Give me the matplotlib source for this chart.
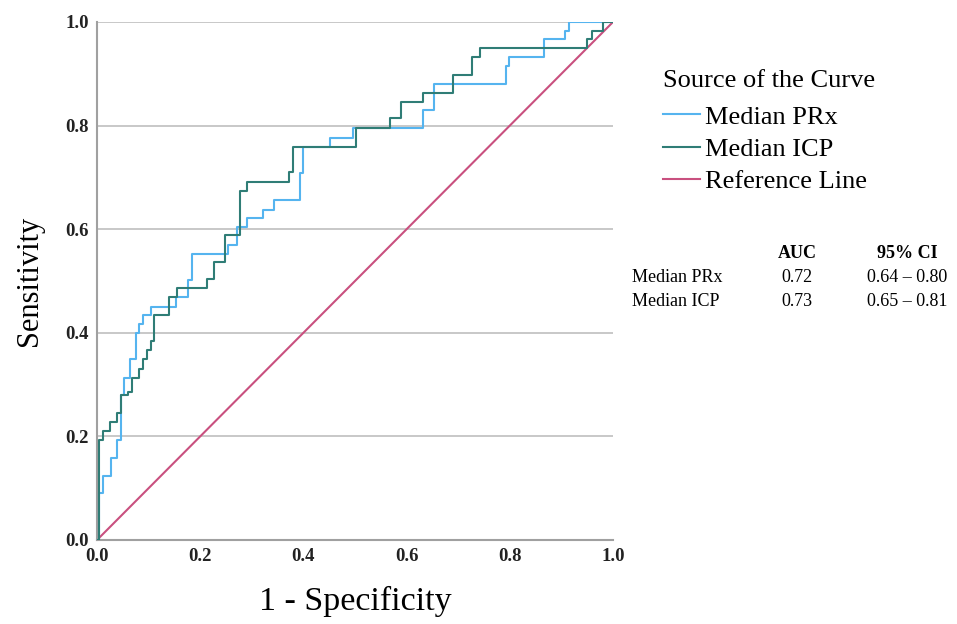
import matplotlib
matplotlib.use("Agg")
import matplotlib.pyplot as plt

# ROC step vertices: (1 - specificity, sensitivity)
prx_fpr = [0.0, 0.003, 0.003, 0.011, 0.011, 0.027, 0.027, 0.038, 0.038, 0.046, 0.046, 0.053, 0.053,
           0.063, 0.063, 0.075, 0.075, 0.082, 0.082, 0.090, 0.090, 0.105, 0.105, 0.154, 0.154,
           0.177, 0.177, 0.184, 0.184, 0.254, 0.254, 0.271, 0.271, 0.291, 0.291, 0.321, 0.321,
           0.343, 0.343, 0.393, 0.393, 0.400, 0.400, 0.452, 0.452, 0.497, 0.497, 0.632, 0.632,
           0.654, 0.654, 0.793, 0.793, 0.799, 0.799, 0.866, 0.866, 0.907, 0.907, 0.915, 0.915, 1.0]
prx_tpr = [0.0, 0.0, 0.090, 0.090, 0.124, 0.124, 0.158, 0.158, 0.193, 0.193, 0.279, 0.279, 0.313,
           0.313, 0.349, 0.349, 0.400, 0.400, 0.417, 0.417, 0.434, 0.434, 0.450, 0.450, 0.470,
           0.470, 0.502, 0.502, 0.553, 0.553, 0.569, 0.569, 0.605, 0.605, 0.621, 0.621, 0.638,
           0.638, 0.656, 0.656, 0.708, 0.708, 0.759, 0.759, 0.777, 0.777, 0.795, 0.795, 0.830,
           0.830, 0.880, 0.880, 0.915, 0.915, 0.932, 0.932, 0.967, 0.967, 0.983, 0.983, 1.0, 1.0]

icp_fpr = [0.0, 0.003, 0.003, 0.011, 0.011, 0.025, 0.025, 0.038, 0.038, 0.046, 0.046, 0.061, 0.061,
           0.067, 0.067, 0.082, 0.082, 0.090, 0.090, 0.097, 0.097, 0.105, 0.105, 0.111, 0.111,
           0.140, 0.140, 0.156, 0.156, 0.213, 0.213, 0.227, 0.227, 0.249, 0.249, 0.277, 0.277,
           0.290, 0.290, 0.372, 0.372, 0.379, 0.379, 0.502, 0.502, 0.568, 0.568, 0.590, 0.590,
           0.632, 0.632, 0.690, 0.690, 0.727, 0.727, 0.742, 0.742, 0.949, 0.949, 0.959, 0.959,
           0.981, 0.981, 1.0]
icp_tpr = [0.0, 0.0, 0.193, 0.193, 0.210, 0.210, 0.227, 0.227, 0.245, 0.245, 0.279, 0.279, 0.285,
           0.285, 0.313, 0.313, 0.331, 0.331, 0.349, 0.349, 0.367, 0.367, 0.385, 0.385, 0.434,
           0.434, 0.470, 0.470, 0.486, 0.486, 0.503, 0.503, 0.537, 0.537, 0.589, 0.589, 0.674,
           0.674, 0.692, 0.692, 0.711, 0.711, 0.759, 0.759, 0.795, 0.795, 0.814, 0.814, 0.846,
           0.846, 0.863, 0.863, 0.898, 0.898, 0.933, 0.933, 0.950, 0.950, 0.967, 0.967, 0.983,
           0.983, 1.0, 1.0]

ref_x = [0.0, 1.0]
ref_y = [0.0, 1.0]

series_names = ["Median PRx", "Median ICP", "Reference Line"]
auc_values = ["0.72", "0.73"]
ci_values = ["0.64 \u2013 0.80", "0.65 \u2013 0.81"]
ticks = [0.0, 0.2, 0.4, 0.6, 0.8, 1.0]
tick_labels = ["0.0", "0.2", "0.4", "0.6", "0.8", "1.0"]

plt.rcParams['font.family'] = ['Liberation Serif', 'DejaVu Serif']

W, H = 957, 624
fig = plt.figure(figsize=(W / 100, H / 100), dpi=100)
ax = fig.add_axes([97 / W, 1 - 540 / H, (613 - 97) / W, (540 - 22) / H])

c_prx = "#55b4ef"
c_icp = "#2f7d76"
c_ref = "#c9507f"

ax.plot(ref_x, ref_y, color=c_ref, lw=1.5, label=series_names[2], zorder=2)
ax.plot(prx_fpr, prx_tpr, color=c_prx, lw=1.5, label=series_names[0], zorder=3)
ax.plot(icp_fpr, icp_tpr, color=c_icp, lw=1.5, label=series_names[1], zorder=4)

ax.set_xlim(0, 1)
ax.set_ylim(0, 1)
ax.set_xticks(ticks)
ax.set_xticklabels(tick_labels)
ax.set_yticks(ticks)
ax.set_yticklabels(tick_labels)
ax.tick_params(length=0, labelsize=13.5, pad=6)
for lbl in ax.get_xticklabels() + ax.get_yticklabels():
    lbl.set_fontweight('bold')
    lbl.set_color('#222222')
ax.yaxis.grid(True, color='#c4c4c4', lw=1.3)
ax.set_axisbelow(True)
for s in ['top', 'right']:
    ax.spines[s].set_visible(False)
for s in ['left', 'bottom']:
    ax.spines[s].set_color('#a0a0a0')
    ax.spines[s].set_linewidth(1.5)

ax.set_xlabel("1 - Specificity", fontsize=24.5, labelpad=15)
ax.set_ylabel("Sensitivity", fontsize=22, labelpad=15)

handles, labels = ax.get_legend_handles_labels()
order = [1, 2, 0]
lfs = 19
leg = fig.legend([handles[i] for i in order], [labels[i] for i in order],
                 loc='upper left', bbox_to_anchor=(663 / W, 1 - 70 / H),
                 frameon=False, title="Source of the Curve",
                 fontsize=lfs, title_fontsize=lfs, handlelength=1.4,
                 handletextpad=0.2, labelspacing=0.34, borderpad=0, borderaxespad=0)
leg._legend_box.align = "left"
leg._legend_box.sep = 0.34 * lfs + 3

ts = 13
fig.text(797 / W, 1 - 253 / H, "AUC", fontsize=ts, fontweight='bold', ha='center', va='center')
fig.text(907 / W, 1 - 253 / H, "95% CI", fontsize=ts, fontweight='bold', ha='center', va='center')
for i, (nm, a, c) in enumerate(zip(series_names[:2], auc_values, ci_values)):
    y = 1 - (277 + 24 * i) / H
    fig.text(632 / W, y, nm, fontsize=ts, ha='left', va='center')
    fig.text(797 / W, y, a, fontsize=ts, ha='center', va='center')
    fig.text(907 / W, y, c, fontsize=ts, ha='center', va='center')

fig.savefig("out.png", dpi=100)
